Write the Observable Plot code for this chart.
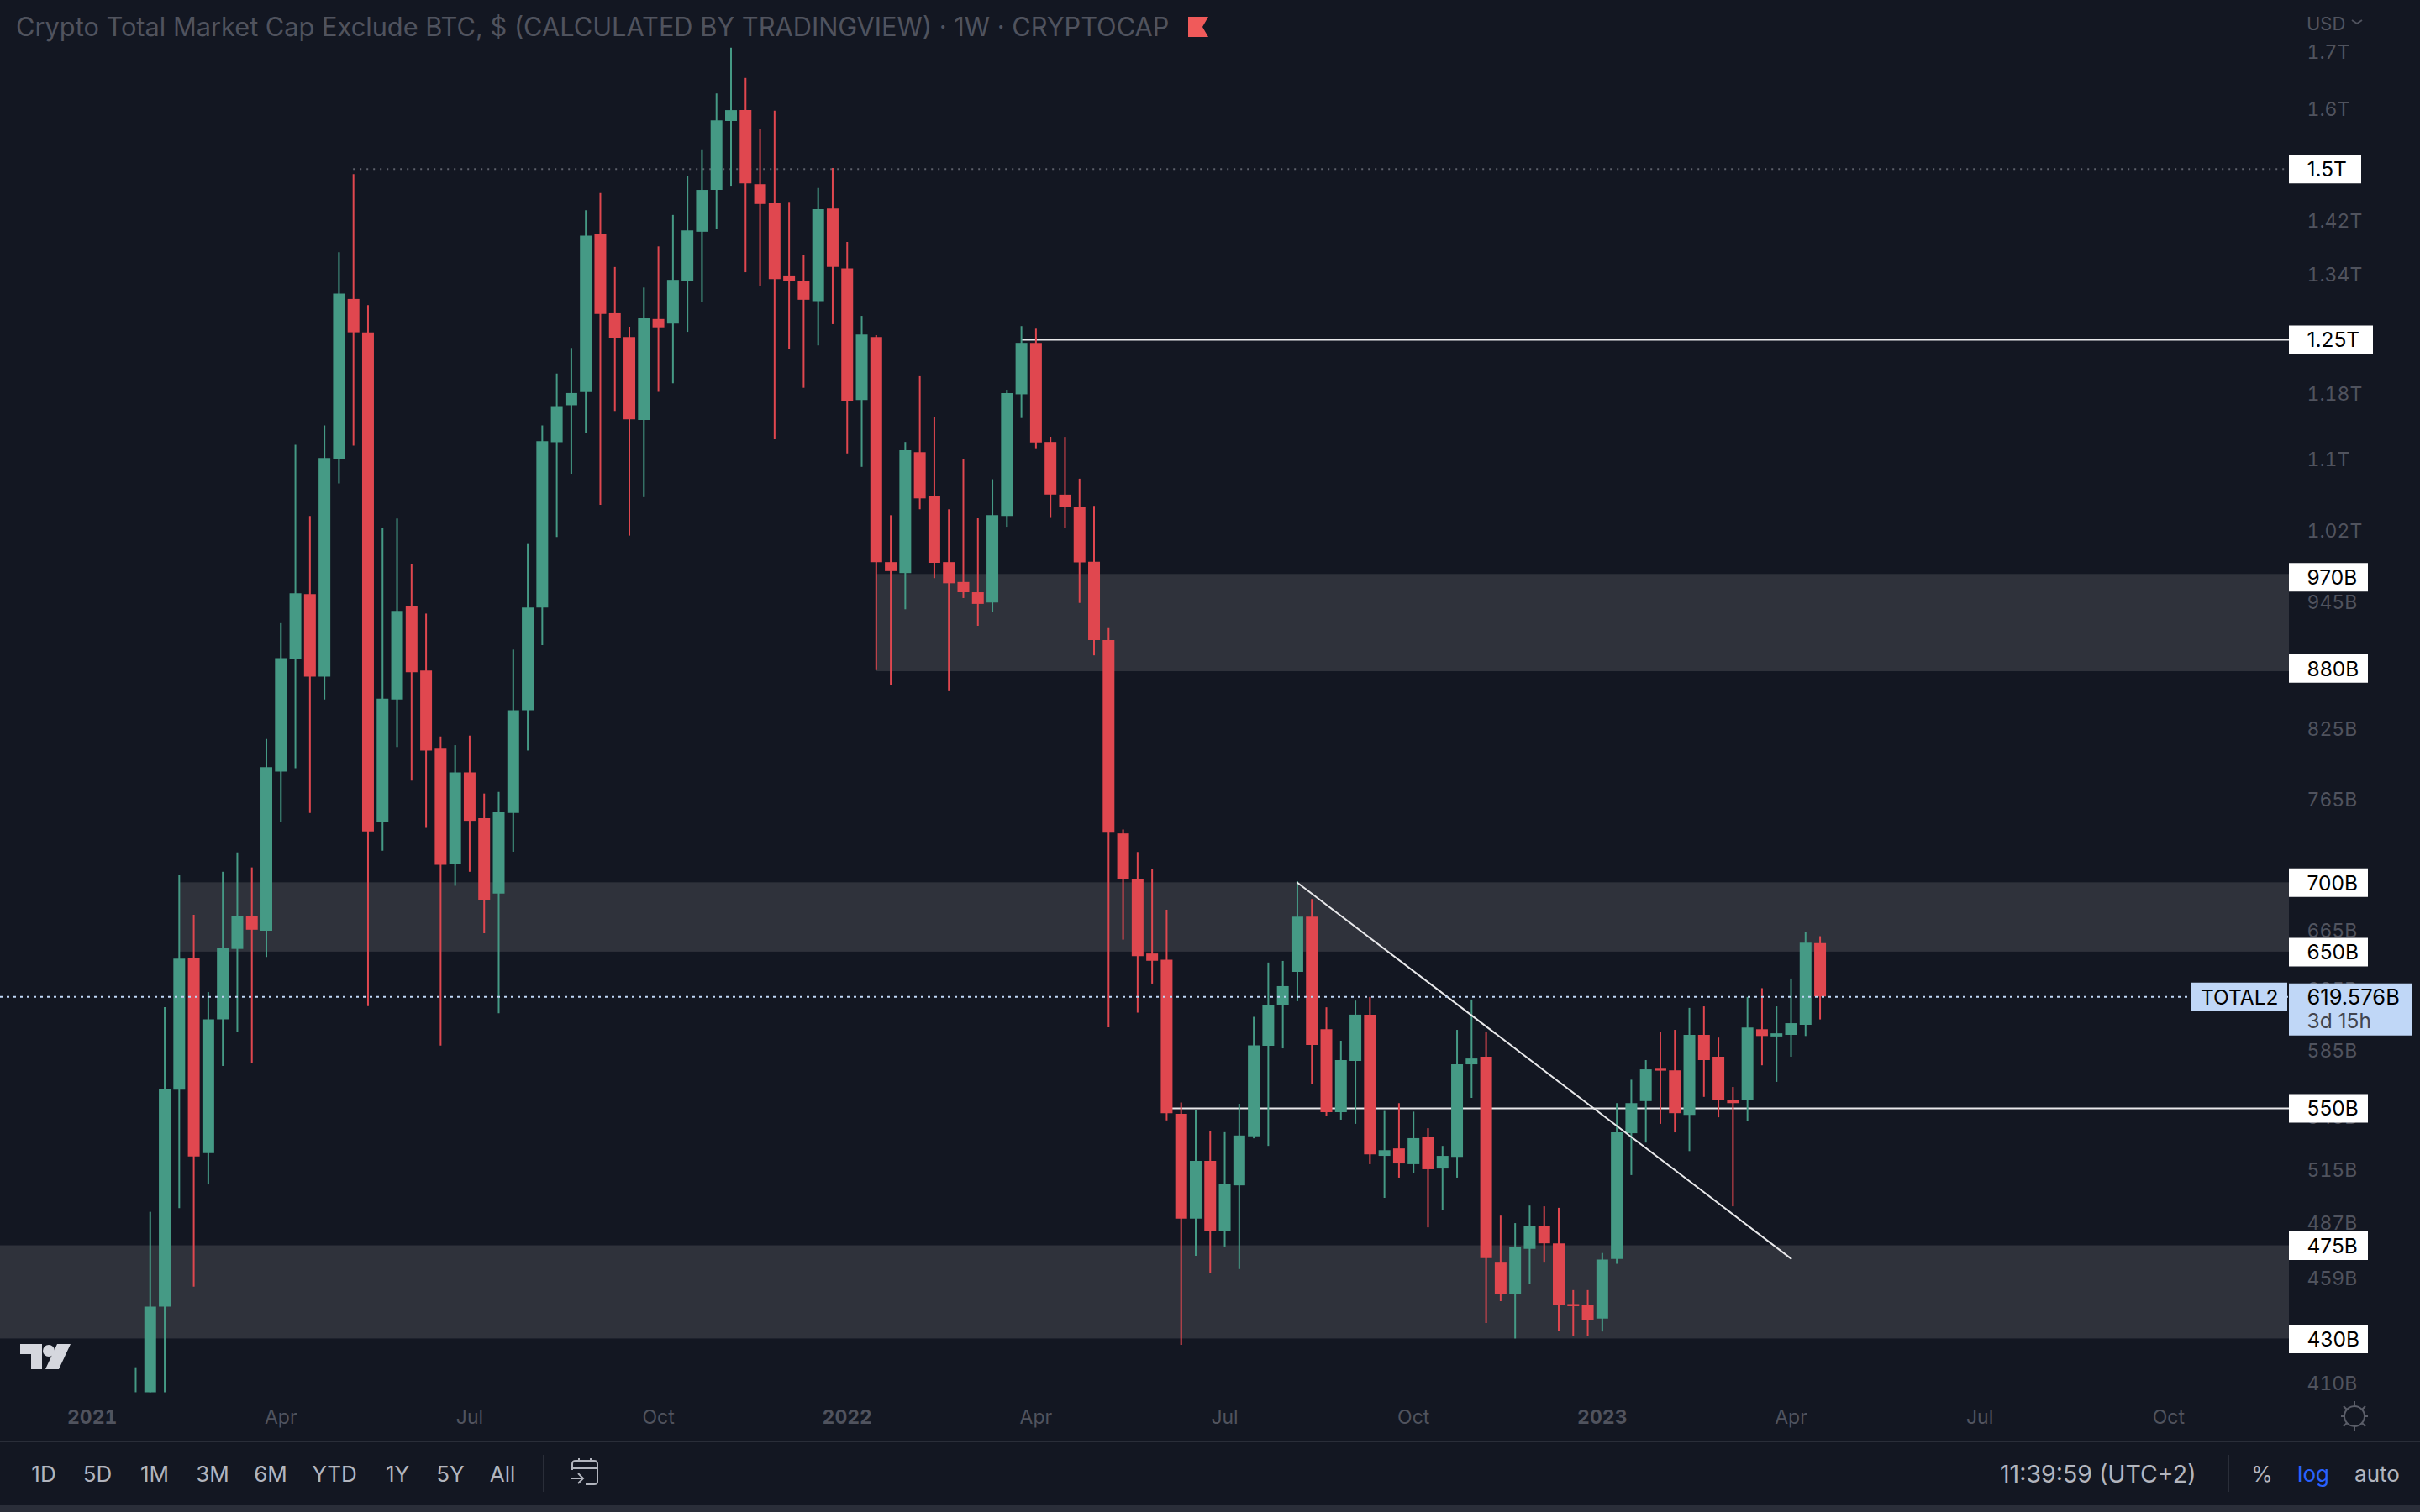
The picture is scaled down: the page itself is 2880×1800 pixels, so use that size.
<!DOCTYPE html>
<html><head><meta charset="utf-8">
<script src="https://cdn.jsdelivr.net/npm/d3@7"></script>
<script src="https://cdn.jsdelivr.net/npm/@observablehq/plot@0.6"></script>
<style>
html,body{margin:0;padding:0;background:#131722;width:2880px;height:1800px;overflow:hidden;font-family:Inter,sans-serif}
#chart{position:absolute;left:0;top:0}
.o{position:absolute;white-space:nowrap;line-height:1}
.c{transform:translateX(-50%)}
.btn{top:1742px;font-size:26px;color:#b2b5be}
</style></head><body>
<div id="chart"></div>
<div class="o" style="position:absolute;left:0;top:1715px;width:2880px;height:2px;background:#2a2e39"></div>
<div class="o" style="left:0;top:1792px;width:2880px;height:8px;background:#2a2e39"></div>
<div class="o" id="title" style="left:19px;top:17px;font-size:30.75px;color:#50535e">Crypto Total Market Cap Exclude BTC, $ (CALCULATED BY TRADINGVIEW) · 1W · CRYPTOCAP</div>
<svg class="o" style="left:1414px;top:20px" width="24" height="24"><path d="M0 0H24L17 12L24 24H0Z" fill="#f05a5a"/></svg>
<div class="o" style="left:2745px;top:17px;font-size:22px;color:#50535e">USD</div>
<svg class="o" style="left:2798px;top:22px" width="14" height="10"><path d="M1 2L7 6L13 2" fill="none" stroke="#50535e" stroke-width="2"/></svg>
<svg class="o" style="left:24px;top:1600px" width="60" height="30"><path d="M0 0H26V30H13V12H0Z M44 0H60L46 30H30Z" fill="#d5d7de"/><circle cx="34" cy="8" r="7" fill="#d5d7de"/></svg>
<svg class="o" style="left:2776px;top:1660px" width="52" height="52" fill="none" stroke="#5a5d68" stroke-width="2"><circle cx="26" cy="26" r="12"/><path d="M26 8V14M26 38V44M10 26H14M38 26H42M13 14L17 18M39 14L35 18M13 38L17 34M39 38L35 34"/></svg>
<div class="o c btn" style="left:52px">1D</div>
<div class="o c btn" style="left:116px">5D</div>
<div class="o c btn" style="left:184px">1M</div>
<div class="o c btn" style="left:253px">3M</div>
<div class="o c btn" style="left:322px">6M</div>
<div class="o c btn" style="left:398px">YTD</div>
<div class="o c btn" style="left:473px">1Y</div>
<div class="o c btn" style="left:536px">5Y</div>
<div class="o c btn" style="left:598px">All</div>
<div class="o" style="left:646px;top:1732px;width:2px;height:44px;background:#2a2e39"></div>
<svg class="o" style="left:679px;top:1736px" width="36" height="34" fill="none" stroke="#b2b5be" stroke-width="2"><path d="M2 14V7Q2 3 6 3H28Q32 3 32 7V28Q32 31 28 31H18M2 12H32M10 0V5M24 0V5M0 24H14M9 18L15 24L9 30"/></svg>
<div class="o" style="left:2380px;top:1741px;font-size:28.5px;color:#b2b5be">11:39:59 (UTC+2)</div>
<div class="o" style="left:2651px;top:1732px;width:2px;height:44px;background:#2a2e39"></div>
<div class="o c btn" style="left:2692px">%</div>
<div class="o c btn" style="left:2753px;color:#2962ff">log</div>
<div class="o c btn" style="left:2829px">auto</div>
<script>
const firstWeek = "2021-01-25";
const opens = [406,406,444.9,560.9,645.8,524.2,604.7,651.9,675.5,664.7,
787.9,888.4,952.2,871.9,1100.3,1305.2,1259.5,746.8,850.8,939.7,
877.6,807.3,713.9,787.2,749.6,691.6,753.8,841.3,938.8,1120,
1165.1,1181.7,1398.6,1285.4,1253.2,1146.9,1277.5,1271.3,1330.3,1402.4,
1466.5,1578.5,1596.9,1475.5,1445.6,1338.4,1331,1302.2,1437.6,1348.5,
1171.6,1253.2,985.4,974,1108.2,1057.6,985.4,964.7,954.2,943.8,
1035.2,1178.8,1245.4,1120.3,1059,1044.9,985.7,906.6,737.5,702.3,
648.7,644.5,546.6,488.7,519.8,482.2,506.4,533.7,587.8,614.2,
636.1,674.8,598.3,547.6,578.4,607.7,522.6,526.8,518,533.5,
515.6,522,576.3,581,466.7,451,473.2,485,476,446.1,
445.8,439.2,468.1,535.4,554.1,573.6,572.6,546,594.7,581,
555,554.5,598.3,593.7,594.7,601.1,655.9];
const highs = [417,492.3,612.6,705.2,676.1,622.5,707.9,722.7,711.2,815.7,
923.2,1116.9,1035.2,1140.2,1371.9,1491.4,1296.7,1021.6,1032.3,983,
932.7,818,810.4,818.7,769.6,771,897.5,1004.6,1140.2,1205.2,
1238.6,1435,1461.5,1350.5,1267,1321.2,1380.6,1427.8,1487.9,1531.4,
1625.6,1707,1652.7,1565.4,1596,1446.5,1367.5,1469.5,1501.2,1387.2,
1281.8,1255.8,1036,1120.3,1201.8,1150.9,1042.6,1099.9,1032.6,1076.6,
1184.5,1267.9,1264.4,1126.5,1126.4,1077.2,1046.4,918.3,740.6,723,
709.8,679.8,553.3,548.7,536.7,536,552.5,606.3,642.5,643.6,
700.8,687.6,612.5,591,616.9,619.3,548.3,552.9,547.9,538.3,
528.2,597.9,617.6,596.3,490.3,486.4,495.6,495.2,494.4,452.8,
452.8,471.1,552.9,566.9,578.9,596.3,597.9,612.1,613.1,593,
562.5,619.3,625.1,613.1,631.6,663.6,660.8];
const lows = [406,406,406,494.2,454.5,506.9,575.3,596.7,576.9,646.3,
746.8,790.8,753.8,850.8,1071.7,1115.9,613.2,724,808.8,780.4,
741.9,587.9,697.4,707.9,662.9,608.6,723.2,805.8,901.8,1012.2,
1082.9,1131.7,1047.5,1158,1013.7,1056.2,1181.9,1192.8,1260.1,1300.5,
1406,1471.7,1343,1324,1123.4,1236.9,1187,1242,1270.5,1106.7,
1090.9,878.1,864.3,937,1042.6,968.7,858.5,948.3,920.6,934,
1023.3,1149.3,1112.8,1033,1022.2,943.4,892,599.5,658.4,609,
628.2,542.8,427.1,469.7,461.3,474,463.1,532.5,528.2,586.2,
616.5,564.5,545.6,543.2,540.8,518,499.7,510.6,513.3,484.2,
493.4,510.6,556,437.2,447.5,430,455.9,466.7,433.6,431,
431,433.2,465.7,512,530.1,540.8,535.9,525.3,556.6,544.6,
495.2,542.6,575.7,565.6,581,594,604.6];
const closes = [406,444.9,561.5,645.1,522.3,604.7,652.4,675.5,665.4,791.6,
889.3,953.1,871.9,1101.3,1312.6,1259.5,739.1,851.6,935.3,876,
805.8,713.2,787.2,747.5,686.9,754.4,841.3,938.8,1121.1,1164,
1180.4,1396.4,1284.5,1252.3,1147.7,1278.4,1266.2,1332.1,1404.4,1466.5,
1579.6,1596.9,1476.7,1444.6,1333.1,1331,1304.1,1436.7,1350.5,1170.7,
1256.6,985.4,976,1110.5,1054.8,984.7,963.4,954.2,942.4,1036,
1180.4,1245.4,1119.6,1059.1,1044.9,985,906.6,738.1,702.3,646.9,
643.7,547,488.7,519.8,482.2,507,534.1,588.1,614.2,626.5,
674.8,588.4,547.6,578.9,607.7,523.5,525.8,518.4,532.6,515.2,
522.6,576.3,579.9,468.5,451,474.1,485,476,445.8,445.1,
438.7,467.8,535.9,552.9,573.2,572.4,547,594.7,578.9,555,
552.9,599.4,594,595.7,602.2,656.3,619.576];

const priceTicks = [1700,1600,1420,1340,1180,1100,1020,945,825,765,665,625,585,545,515,487,459,410];
const levelTags = [970,880,700,650,550,475,430];
const zones = [{lo:877,hi:973,from:51},{lo:650,hi:700,from:3},{lo:430,hi:475,from:null}];
const lastPrice = 619.576;
const yearTicks = ["2021-01-04","2022-01-03","2023-01-02"];
const monthTicks = ["2021-04-05","2021-07-05","2021-10-04","2022-04-04","2022-07-04","2022-10-03","2023-04-03","2023-07-03","2023-10-02"];
const xDomain = ["2020-11-20T19:00Z","2023-11-29T05:00Z"].map(d=>new Date(d));
const yDomain = [405.8,1796.2];
const GREEN="#459a85", RED="#e0474f", MUTED="#50535e", ZONE="#2f323b", TAG="#c0d7f7";

const weeks = opens.map((_,i)=>d3.utcWeek.offset(new Date(firstWeek),i));
const candles = opens.map((o,i)=>({date:weeks[i],open:o,high:highs[i],low:lows[i],close:closes[i]}));
const up = candles.filter(d=>d.close>=d.open), down = candles.filter(d=>d.close<d.open);
const fmtPrice = v=> v>=1000 ? (v/1000)+"T" : v+"B";
const candleMarks = (data,color)=>[
  Plot.ruleX(data,{x:"date",y1:"low",y2:"high",stroke:color,strokeWidth:2,clip:true}),
  Plot.ruleX(data,{x:"date",y1:"open",y2:"close",stroke:color,strokeWidth:14,clip:true})
];
const tag=(vals,over)=>Plot.ruleY(vals,{y:d=>d,stroke:"#fff",strokeWidth:34,insetLeft:2724,insetRight:-over});

const chart = Plot.plot({
  width:2880,height:1800,marginLeft:0,marginTop:0,marginRight:156,marginBottom:142,
  style:{background:"transparent",fontFamily:"Inter,sans-serif",fontSize:"23px"},
  x:{type:"utc",domain:xDomain},
  y:{type:"log",domain:yDomain},
  marks:[
    Plot.rect(zones,{x1:d=>d.from===null?xDomain[0]:weeks[d.from],x2:xDomain[1],y1:"lo",y2:"hi",fill:ZONE}),
    Plot.ruleY([1500],{x1:weeks[15],x2:xDomain[1],stroke:"#5d606b",strokeWidth:2,strokeDasharray:"2 6"}),
    Plot.ruleY([1250],{x1:weeks[61],x2:xDomain[1],stroke:"#e8e8ea",strokeWidth:2}),
    Plot.ruleY([550],{x1:weeks[71],x2:xDomain[1],stroke:"#e8e8ea",strokeWidth:2}),
    ...candleMarks(up,GREEN),
    ...candleMarks(down,RED),
    Plot.line([{x:weeks[80],y:700},{x:weeks[114],y:468.5}],{x:"x",y:"y",stroke:"#e8e8ea",strokeWidth:2}),
    Plot.ruleY([lastPrice],{stroke:TAG,strokeWidth:2,strokeDasharray:"3 5"}),
    Plot.axisY({anchor:"right",ticks:priceTicks,tickFormat:fmtPrice,tickSize:0,tickPadding:21,label:null,fill:MUTED,fontSize:23,dy:1}),
    Plot.axisX({ticks:monthTicks.map(d=>new Date(d)),tickFormat:d3.utcFormat("%b"),tickSize:0,tickPadding:20,label:null,fill:MUTED,fontSize:23}),
    Plot.axisX({ticks:yearTicks.map(d=>new Date(d)),tickFormat:d3.utcFormat("%Y"),tickSize:0,tickPadding:20,label:null,fill:MUTED,fontWeight:"bold",fontSize:23}),
    tag(levelTags,94),
    tag([1500],86),
    tag([1250],100),
    Plot.ruleY([lastPrice],{insetLeft:2608,insetRight:2,stroke:TAG,strokeWidth:34}),
    Plot.ruleY([lastPrice],{insetLeft:2724,insetRight:-146,dy:15,stroke:TAG,strokeWidth:62}),
    Plot.text([...levelTags,1500,1250],{y:d=>d,text:fmtPrice,frameAnchor:"right",textAnchor:"start",dx:21,dy:1,fill:"#000",fontSize:24.5}),
    Plot.text([lastPrice],{y:d=>d,text:d=>d.toFixed(3)+"B",frameAnchor:"right",textAnchor:"start",dx:21,dy:1,fill:"#000",fontSize:25.5}),
    Plot.text([lastPrice],{y:d=>d,text:()=>"3d 15h",frameAnchor:"right",textAnchor:"start",dx:21,dy:29,fill:"#42454f",fontSize:24.5}),
    Plot.text([lastPrice],{y:d=>d,text:()=>"TOTAL2",frameAnchor:"right",textAnchor:"end",dx:-13,dy:1,fill:"#000",fontSize:24.5})
  ]
});
document.getElementById("chart").appendChild(chart);
</script>
</body></html>
